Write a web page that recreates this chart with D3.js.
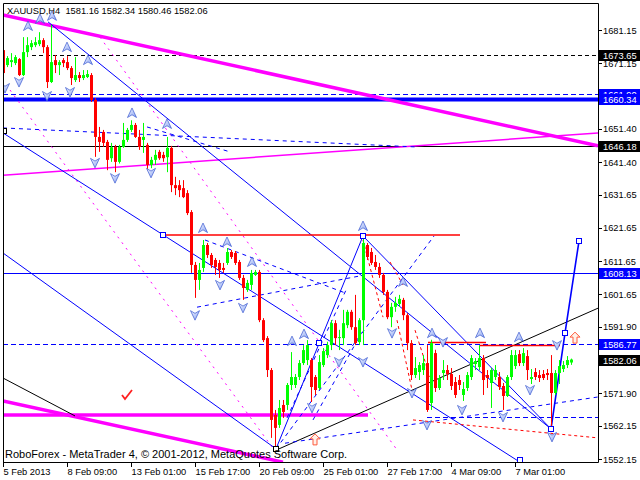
<!DOCTYPE html>
<html><head><meta charset="utf-8">
<script src="https://cdn.jsdelivr.net/npm/d3@7"></script>
<style>body{margin:0;background:#fff}svg{display:block}text{font-family:"Liberation Sans",Arial,sans-serif}</style>
</head><body>
<svg id="c" width="640" height="480"></svg>
<script>
// ---------- DATA ----------
const symbol = "XAUUSD,H4";
const lastOHLC = [1581.16, 1582.34, 1580.46, 1582.06];
const copyright = "RoboForex - MetaTrader 4, \u00A9 2001-2012, MetaQuotes Software Corp.";

const opens = [1675.1,1670.6,1671.5,1671.2,1672.4,1667.6,1674.5,1676.0,1676.6,1676.9,1678.1,1676.0,1665.5,1672.1,1670.6,1672.1,1671.5,1669.7,1666.1,1667.6,1666.7,1667.0,1667.6,1660.1,1649.0,1650.5,1647.5,1642.6,1646.0,1641.5,1646.0,1648.1,1651.1,1652.6,1649.0,1648.1,1646.6,1640.6,1642.1,1644.5,1643.6,1642.9,1645.7,1634.5,1634.5,1633.6,1632.1,1626.4,1610.5,1606.0,1609.6,1616.5,1613.5,1612.0,1611.1,1609.6,1611.1,1614.4,1614.1,1611.4,1606.6,1603.0,1604.5,1607.5,1608.4,1593.9,1588.5,1578.9,1565.4,1562.4,1568.4,1568.4,1574.4,1574.4,1576.8,1581.0,1581.9,1581.9,1576.8,1573.5,1580.4,1583.4,1586.4,1593.0,1588.5,1588.5,1592.4,1596.4,1591.8,1587.3,1593.9,1616.5,1614.4,1611.4,1609.9,1607.5,1602.4,1594.8,1597.9,1598.8,1600.0,1595.4,1587.0,1577.4,1578.3,1578.9,1581.0,1569.0,1584.0,1573.5,1578.0,1578.9,1577.7,1575.3,1575.9,1571.4,1573.5,1576.8,1580.7,1579.8,1582.5,1577.4,1575.0,1576.8,1576.8,1574.1,1571.1,1576.8,1580.1,1583.7,1581.0,1583.1,1576.2,1578.3,1577.4,1577.7,1578.0,1578.0,1572.0,1578.0,1579.2,1580.4,1581.16];
const highs = [1676.6,1673.3,1674.2,1673.6,1672.7,1679.0,1679.0,1678.1,1679.0,1680.5,1678.7,1676.6,1682.7,1673.6,1672.1,1672.7,1673.3,1670.3,1673.0,1668.5,1669.1,1669.1,1668.2,1660.7,1652.0,1651.1,1648.1,1647.2,1646.6,1646.6,1653.2,1651.7,1654.0,1653.2,1651.1,1653.2,1647.2,1643.0,1645.1,1645.1,1644.5,1649.0,1646.3,1637.0,1636.0,1636.0,1633.0,1627.0,1611.4,1611.1,1618.0,1617.1,1614.1,1612.6,1612.0,1611.1,1615.6,1615.0,1614.7,1612.0,1607.5,1606.0,1609.0,1609.0,1609.0,1594.5,1589.1,1579.5,1566.9,1569.9,1569.9,1575.0,1584.3,1577.7,1581.9,1586.4,1587.9,1582.5,1577.4,1583.4,1585.5,1587.4,1593.9,1593.9,1591.0,1597.0,1597.0,1597.0,1601.5,1594.5,1619.5,1617.1,1615.6,1613.5,1611.1,1608.1,1603.0,1599.1,1600.9,1601.5,1600.6,1596.0,1587.9,1582.8,1581.3,1583.4,1586.4,1588.0,1585.0,1577.4,1581.9,1580.4,1579.5,1576.8,1577.4,1575.3,1578.3,1583.4,1582.5,1586.4,1583.4,1578.9,1579.5,1580.4,1578.3,1575.0,1577.4,1584.9,1584.9,1584.9,1585.5,1584.9,1579.2,1579.5,1578.9,1578.9,1579.2,1583.4,1578.9,1581.9,1581.6,1583.1,1582.34];
const lows = [1667.6,1670.0,1670.0,1670.6,1667.3,1667.3,1673.0,1675.1,1676.0,1676.3,1674.2,1663.7,1665.2,1668.2,1667.6,1670.0,1669.1,1664.6,1665.5,1665.5,1666.1,1666.7,1659.5,1643.0,1644.5,1646.0,1639.0,1641.5,1638.4,1641.0,1645.7,1647.5,1650.5,1648.7,1645.1,1644.2,1639.0,1639.6,1640.6,1642.1,1641.5,1638.4,1632.4,1631.5,1630.9,1630.6,1625.5,1608.1,1600.6,1603.0,1608.4,1612.6,1609.6,1607.5,1606.6,1608.1,1610.5,1612.3,1610.5,1606.0,1600.0,1602.4,1603.0,1607.2,1593.3,1587.3,1576.8,1558.5,1555.5,1561.5,1564.5,1566.9,1572.9,1573.5,1575.9,1580.4,1580.4,1569.3,1571.4,1572.9,1579.8,1582.5,1584.9,1586.4,1584.9,1586.4,1591.5,1591.0,1586.4,1586.4,1586.4,1612.0,1610.5,1609.0,1606.6,1601.5,1594.2,1591.8,1596.4,1597.9,1593.9,1584.9,1575.9,1576.5,1575.9,1577.4,1566.3,1566.9,1572.3,1572.9,1575.9,1575.9,1572.9,1570.5,1572.9,1569.6,1572.6,1575.9,1578.9,1578.9,1571.4,1573.5,1567.5,1575.9,1572.9,1566.9,1570.8,1575.9,1579.2,1580.1,1580.1,1575.9,1574.7,1575.9,1575.3,1575.9,1575.9,1560.9,1571.4,1574.7,1578.3,1579.5,1580.46];
const closes = [1668.2,1672.7,1672.1,1673.0,1667.6,1674.5,1676.6,1677.2,1677.5,1678.1,1676.0,1665.5,1671.5,1670.6,1671.5,1671.2,1669.7,1666.7,1667.6,1666.7,1667.6,1667.9,1660.1,1649.0,1647.5,1647.2,1642.1,1645.9,1641.5,1646.0,1648.1,1651.1,1652.6,1649.0,1646.0,1649.0,1640.6,1642.1,1643.6,1642.6,1642.6,1645.7,1634.5,1633.6,1633.0,1630.9,1626.1,1610.5,1606.0,1609.0,1616.5,1613.5,1610.5,1609.9,1609.0,1609.0,1614.4,1612.9,1611.1,1606.6,1603.6,1605.1,1608.1,1608.4,1593.9,1587.9,1578.9,1563.9,1561.5,1567.5,1566.3,1574.4,1576.8,1576.8,1581.0,1584.9,1586.4,1573.8,1572.9,1581.3,1584.6,1586.4,1593.0,1588.5,1588.8,1593.0,1596.4,1591.8,1587.0,1593.9,1617.1,1612.9,1611.1,1609.9,1607.5,1602.4,1594.8,1597.9,1599.1,1600.3,1595.4,1587.0,1577.4,1579.5,1580.4,1581.0,1566.9,1587.0,1573.5,1576.5,1578.9,1577.7,1574.1,1571.4,1574.4,1573.2,1577.4,1582.5,1581.6,1582.5,1575.9,1576.5,1578.9,1578.9,1573.8,1571.1,1576.8,1583.4,1583.4,1581.0,1584.0,1578.9,1576.8,1576.8,1576.5,1576.5,1577.4,1572.0,1578.0,1580.1,1580.4,1581.9,1582.06];

const timeTickIndex = [0,16,32,48,64,80,96,112,128];
const timeLabels = ["5 Feb 2013","8 Feb 09:00","13 Feb 01:00","15 Feb 17:00","20 Feb 09:00","25 Feb 01:00","27 Feb 17:00","4 Mar 09:00","7 Mar 01:00"];
const priceTicks = [1681.15,1671.15,1661.40,1651.40,1641.40,1631.65,1621.65,1611.65,1601.65,1591.90,1581.90,1571.90,1562.15,1552.15];
// tick labels that the price tags fully cover in the chart
const hiddenTickLabels = [1661.40, 1581.90];

// price tag levels on the axis
const blackTags = [1673.65, 1646.18, 1582.06];
const blueTags = [1661.90, 1660.34, 1608.13, 1586.77];

// horizontal levels [price, fromIndex]
const levelBlackDash = [[1673.65, 7.25]];
const levelBlackSolid = [[1646.18, -1]];
const levelBlueThick = [[1660.34, -1]];
const levelBlueSolid = [[1608.13, -1]];
const levelBlueDash = [[1661.90, -1],[1586.77, -1],[1564.8, 106]];

// trend segments [i1, p1, i2, p2]
const segMagentaThick = [[0,1685.7,148.75,1646.3],[0,1565.4,91.25,1565.4],[0,1569.6,70,1551.2]];
const segMagentaThin = [[0,1637.5,148.75,1650.2]];
const segMagentaDash = [[24.25,1679.0,98.5,1554.9],[1.75,1663.1,67.25,1555.8]];
const segBlack = [[0,1576.5,18,1565.1],[68.25,1554.8,148.75,1597.5]];
const segBlue = [[11.25,1683.6,137,1561.2],[0,1650.2,129.25,1551.2],[0,1614.1,68.25,1555.2],[68.25,1555.2,90,1619.2],[90,1619.2,137,1561.2]];
const segBlueDash = [[0,1651.7,103,1646.0],[36,1652.0,56.75,1644.5],[68.25,1555.2,107.75,1619.2],[70.5,1556.9,148.75,1570.8],[50.5,1618.0,85.5,1602.1],[48.5,1597.8,89.25,1607.2],[71,1564.5,86,1603.6],[77.5,1563.9,90,1590.9]];
const segRed = [[40,1619.5,114.25,1619.5],[106.25,1587.2,120.75,1587.2],[119.25,1586.3,139.25,1586.3]];
const segRedDash = [[102.5,1563.9,148.75,1558.5],[90,1618.0,95,1594.8],[96.75,1611.4,100,1604.5],[98.5,1593.9,102.25,1572.9],[103,1590.9,106.75,1576.8]];
const projection = [[137,1561.2],[140.5,1590.0],[144,1617.7]];

const arrowsUp = [[6.25,1682.35],[9.25,1684.5],[12.25,1685.4],[16,1676.0],[21.25,1672.1],[32.25,1656.2],[41,1652.9],[50,1621.6],[56,1617.4],[62.25,1611.4],[72.25,1587.6],[75.25,1589.7],[90,1622.2],[100,1605.4],[107.25,1590.0],[119.25,1590.0],[129,1588.8]];
const arrowsDown = [[0.5,1663.7],[4,1665.5],[11,1661.3],[16.75,1662.5],[23,1641.2],[28,1636.6],[37,1638.2],[48,1595.4],[54.25,1604.5],[60,1597.6],[77.25,1567.5],[84,1581.3],[90,1581.3],[97.25,1590.0],[102.25,1572.0],[106,1562.4],[110,1587.3],[114.75,1566.9],[125,1564.8],[131.75,1572.9],[137.25,1558.8],[138.5,1586.4]];
const hollowArrows = [[78,1557.9],[143,1588.5]];
const checkMarks = [[31,1571.4]];
const squaresBlue = [[40,1619.5],[90,1619.2],[79,1587.0],[137,1561.2],[140.5,1590.0],[144,1617.7],[129.25,1551.9]];
const squaresBlack = [[68.25,1555.2],[0.25,1650.8]];

// ---------- LAYOUT ----------
const L = 3, R = 598, T = 3, B = 462;
const svg = d3.select("#c");
const x = d3.scaleLinear().domain([0, 142]).range([3, 571]);
const y = d3.scaleLinear().domain([1552.15, 1681.15]).range([459, 30]);

svg.append("rect").attr("width",640).attr("height",480).attr("fill","#fff");
const defs = svg.append("defs");
defs.append("clipPath").attr("id","pc").append("rect")
  .attr("x",L).attr("y",T).attr("width",R-L).attr("height",B-T);
const plot = svg.append("g").attr("clip-path","url(#pc)");

function segs(data, color, w, dash){
  plot.append("g").selectAll("line").data(data).join("line")
    .attr("x1",d=>x(d[0])).attr("y1",d=>y(d[1])).attr("x2",d=>x(d[2])).attr("y2",d=>y(d[3]))
    .attr("stroke",color).attr("stroke-width",w).attr("stroke-dasharray",dash||null);
}
function levels(data, color, w, dash){
  plot.append("g").selectAll("line").data(data).join("line")
    .attr("x1",d=>d[1] < 0 ? L : x(d[1])).attr("x2",R)
    .attr("y1",d=>Math.round(y(d[0]))+0.5).attr("y2",d=>Math.round(y(d[0]))+0.5)
    .attr("stroke",color).attr("stroke-width",w).attr("stroke-dasharray",dash||null);
}

levels(levelBlueThick, "#0000ff", 4);
levels(levelBlackSolid, "#000", 1);
levels(levelBlueSolid, "#0000ff", 1);
levels(levelBlackDash, "#000", 1, "4,3");
levels(levelBlueDash, "#0000ff", 1, "5,3");
segs(segMagentaThick, "#ff00ff", 3.5);
segs(segMagentaThin, "#ff00ff", 1.5);
segs(segMagentaDash, "#ff00ff", 1, "2,5");
segs(segBlack, "#000", 1);
segs(segBlue, "#0000ff", 1);
segs(segBlueDash, "#0000ff", 1, "4,4");
segs(segRed, "#ff0000", 1.5);
segs(segRedDash, "#ff0000", 1, "3,3");
plot.append("path").datum(projection)
  .attr("d", d3.line().x(d=>x(d[0])).y(d=>y(d[1])))
  .attr("fill","none").attr("stroke","#0000ff").attr("stroke-width",1.6);

// candles
const idx = d3.range(closes.length);
const cg = plot.append("g");
cg.selectAll("line").data(idx).join("line")
  .attr("x1",i=>Math.round(x(i))+0.5).attr("x2",i=>Math.round(x(i))+0.5)
  .attr("y1",i=>y(highs[i])).attr("y2",i=>y(lows[i]))
  .attr("stroke",i=>closes[i]>=opens[i]?"#00ff00":"#ff0000").attr("stroke-width",1);
cg.selectAll("rect").data(idx).join("rect")
  .attr("x",i=>Math.round(x(i))-1).attr("width",3)
  .attr("y",i=>y(Math.max(opens[i],closes[i])))
  .attr("height",i=>Math.max(1, Math.abs(y(opens[i])-y(closes[i]))))
  .attr("fill",i=>closes[i]>=opens[i]?"#00ff00":"#ff0000");

// squares
plot.append("g").selectAll("rect").data(squaresBlue).join("rect")
  .attr("x",d=>Math.round(x(d[0]))-2.5).attr("y",d=>Math.round(y(d[1]))-2.5).attr("width",5).attr("height",5)
  .attr("fill","#fff").attr("stroke","#0000ff");
plot.append("g").selectAll("rect").data(squaresBlack).join("rect")
  .attr("x",d=>Math.round(x(d[0]))-2.5).attr("y",d=>Math.round(y(d[1]))-2.5).attr("width",5).attr("height",5)
  .attr("fill","#fff").attr("stroke","#000");

// arrows
const grad = defs.append("linearGradient").attr("id","ag").attr("x1",0).attr("y1",0).attr("x2",1).attr("y2",1);
grad.append("stop").attr("offset","0").attr("stop-color","#f2f5ff");
grad.append("stop").attr("offset","1").attr("stop-color","#8aa4f2");
plot.append("g").selectAll("path").data(arrowsUp).join("path")
  .attr("transform",d=>`translate(${x(d[0])},${y(d[1])})`)
  .attr("d","M0,-5L4.5,4.5L0,1.8L-4.5,4.5Z").attr("fill","url(#ag)").attr("stroke","#3a58d0").attr("stroke-width",0.7);
plot.append("g").selectAll("path").data(arrowsDown).join("path")
  .attr("transform",d=>`translate(${x(d[0])},${y(d[1])})`)
  .attr("d","M0,5L4.5,-4.5L0,-1.8L-4.5,-4.5Z").attr("fill","url(#ag)").attr("stroke","#3a58d0").attr("stroke-width",0.7);
plot.append("g").selectAll("path").data(hollowArrows).join("path")
  .attr("transform",d=>`translate(${x(d[0])},${y(d[1])})`)
  .attr("d","M0,-6L5,-1L2,-1L2,5L-2,5L-2,-1L-5,-1Z").attr("fill","#fff0e8").attr("stroke","#ff5a3c").attr("stroke-width",1);
plot.append("g").selectAll("path").data(checkMarks).join("path")
  .attr("transform",d=>`translate(${x(d[0])},${y(d[1])})`)
  .attr("d","M-5,0L-2,4L5,-5").attr("fill","none").attr("stroke","#ff2020").attr("stroke-width",1.8);

// frame
svg.append("path").attr("d",`M${L+0.5},${B+0.5}V${T+0.5}H${R+0.5}V${B+0.5}H${L+0.5}`)
  .attr("fill","none").attr("stroke","#000");

// price axis
const ay = svg.append("g");
ay.selectAll("line").data(priceTicks).join("line")
  .attr("x1",R).attr("x2",R+4).attr("y1",d=>Math.round(y(d))+0.5).attr("y2",d=>Math.round(y(d))+0.5).attr("stroke","#000");
ay.selectAll("text").data(priceTicks.filter(v=>!hiddenTickLabels.includes(v))).join("text")
  .attr("x",603).attr("y",d=>y(d)+3.5).attr("font-size","9.3px").attr("fill","#000")
  .text(d=>d.toFixed(2));

function tags(data, color){
  const g = svg.append("g").selectAll("g").data(data).join("g");
  g.append("rect").attr("x",R+1).attr("y",d=>Math.round(y(d))-5).attr("width",640-R-1).attr("height",11).attr("fill",color);
  g.append("text").attr("x",603).attr("y",d=>Math.round(y(d))+4).attr("font-size","9.3px").attr("fill","#fff").text(d=>d.toFixed(2));
}
tags([blueTags[0]], "#0000ff");
tags([blackTags[0], blackTags[1]], "#000");
tags(blueTags.slice(1), "#0000ff");
tags([blackTags[2]], "#000");

// time axis
const ax = svg.append("g");
ax.selectAll("line").data(timeTickIndex).join("line")
  .attr("x1",i=>Math.round(x(i))+0.5).attr("x2",i=>Math.round(x(i))+0.5).attr("y1",B).attr("y2",B+5).attr("stroke","#000");
ax.selectAll("text").data(timeTickIndex).join("text")
  .attr("x",i=>x(i)+0.5).attr("y",475).attr("font-size","9.3px").attr("fill","#000")
  .text((i,k)=>timeLabels[k]);

// header & copyright
svg.append("text").attr("x",7).attr("y",14).attr("font-size","9.3px").attr("fill","#000")
  .attr("xml:space","preserve")
  .text(symbol + "  " + lastOHLC.map(v=>v.toFixed(2)).join(" "));
svg.append("text").attr("x",5).attr("y",458).attr("font-size","11px").attr("fill","#000")
  .text(copyright);
</script>
</body></html>
